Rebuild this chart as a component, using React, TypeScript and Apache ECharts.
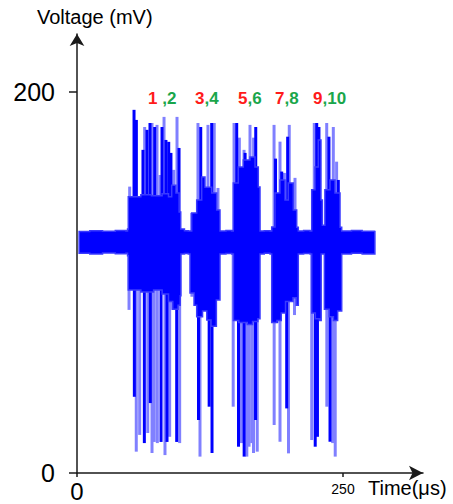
import React, { useEffect, useRef } from 'react';
import * as echarts from 'echarts';

// Axis ticks / ranges (µs, mV)
const xTicks = [0, 250];
const yTicks = [0, 200];
const xMax = 325.2;
const yMax = 230.4;
const baselineLevel = 121;

// Dense core of the trace: upper and lower envelope [time µs, mV]
const coreUpper: [number, number][] = [
  [2, 126.8], [12, 127.2], [24, 126.9], [36, 127.3], [46, 127],
  [47.5, 128], [48.2, 145], [60, 146], [70, 145.5], [80, 146.5], [86, 145], [89, 151], [93, 147], [96, 137], [97.5, 128],
  [101, 127.2], [104.6, 127], [107.8, 136.5], [112.5, 143.3], [117.2, 155.4], [120.3, 150], [126.6, 147], [131.3, 138], [134.4, 127],
  [140, 127.3], [145.4, 127], [146.9, 152.2], [151.6, 160.6], [156.3, 164.3], [162.6, 165.9], [167.3, 160.6], [170.4, 150.1], [172, 127],
  [176, 127.2], [181.4, 127], [183, 129.1], [186.1, 147], [190.8, 153.8], [195.5, 143.3], [198.6, 152.2], [203.3, 138], [206.5, 129], [208, 127],
  [213, 127.3], [219, 127], [220.6, 148.6], [223.7, 160.6], [226.8, 174.8], [229.3, 143.3], [230.6, 130], [233, 148.6], [237.8, 153.8], [242.5, 147], [247.2, 129], [248.8, 127],
  [258, 127.3], [268, 126.9], [280, 127.1],
];
const coreLower: [number, number][] = [
  [2, 115.3], [12, 115], [24, 115.4], [36, 115.1], [46, 115.3],
  [47.5, 114], [48.2, 96], [60, 95], [72, 96], [80, 94], [86, 90], [90, 86], [95, 88], [97, 93], [97.7, 115],
  [101, 115.2], [104.6, 115], [106.2, 94.5], [110, 88], [112.5, 82], [118, 85], [122, 80.3], [126, 77], [131, 90.8], [134.4, 115],
  [140, 115.2], [145.4, 115], [147, 80], [152, 79], [160, 78], [165, 79.5], [170, 81], [172, 115],
  [176, 115.3], [181.4, 115], [183, 79], [188, 80], [192, 84], [196, 90], [203, 92], [206, 88], [208, 115],
  [213, 115.2], [219, 115], [220.6, 84], [224, 81], [228, 80], [229.5, 115], [231, 115], [232.5, 86], [237, 82], [241, 80], [245, 85], [248.8, 115],
  [258, 115.3], [268, 115], [280, 115.2],
];

// Individual excursions [time µs, peak mV]
const spikesUpStrong: [number, number][] = [
  [53.6, 190.6], [55.8, 185.3], [62, 169.6], [65.8, 180.1], [68.6, 183.7], [73, 181.6], [79.9, 181.6], [83.6, 174.8], [86.2, 173.8], [88.3, 168], [95.9, 170.6],
  [116.3, 181.6], [118.5, 155], [126.6, 183.7],
  [150.1, 183.7], [158, 168], [168, 181.6],
  [186.6, 165], [192.4, 158.2], [198, 176.5],
  [225.3, 183.7], [227.4, 181.6], [236.8, 176.5], [245.6, 153.8],
];
const spikesUpFaint: [number, number][] = [
  [49.5, 150.3], [63.6, 181.6], [70.5, 183.7], [75.2, 182.7], [78, 156.4], [81.8, 186.9], [90.9, 159.1], [94, 186.9],
  [107.8, 136.5], [113.7, 183.7], [123.1, 182.7], [129, 183.7], [132.5, 149.6],
  [147.6, 183.7], [152.6, 176], [157, 169.6], [162.6, 182.7], [166, 176], [171, 138],
  [185.2, 182.7], [190.8, 173.9], [194.9, 157.5], [199.5, 182.7], [204.9, 154.9],
  [223, 183.7], [234.7, 183.7], [240.9, 181.6], [244, 163.4],
];
const spikesDownStrong: [number, number][] = [
  [53.9, 40], [63.3, 15.7], [68.9, 36.7], [79, 16.3], [84.6, 16.3], [93.7, 16.3],
  [114.2, 27.8], [124.2, 34.8], [126.9, 10.5],
  [151.8, 13.8], [157.1, 8.6], [167.8, 27.8],
  [187.7, 78.7], [197.1, 33.9],
  [223.9, 13.8], [226, 19], [237.8, 16.4],
];
const spikesDownFaint: [number, number][] = [
  [48.9, 85.6], [55.7, 11.2], [58.9, 20], [66.5, 21], [70.5, 10.5], [72.6, 16.3], [75.5, 15.7], [82.7, 9.4], [87.1, 19], [89.6, 85.6], [96.5, 15.7],
  [108, 92.5], [115.6, 8.6],
  [146.8, 34.8], [154.6, 15.7], [159.6, 8.6], [161.7, 13.8], [164.2, 15.7], [165.9, 10.5], [169.4, 11.2],
  [185.3, 25.2], [190.8, 16.4], [198.8, 10.3], [204.4, 82.9],
  [220.6, 17.3], [234.8, 34.8], [240.3, 15.7], [242.7, 8.6],
];

// Pulse annotations (odd number in red, even in green)
const pulseOdd = ['1', '3', '5', '7', '9'];
const pulseEven = [' ,2', ',4', ',6', ',8', ',10'];

// layout (pixels)
const pulseLabelX = [148, 195, 238, 275, 313];

const FONT = '"Liberation Sans", Arial, sans-serif';

function spikeSeries(data: [number, number][], color: string, width: number, z: number) {
  return {
    type: 'custom',
    coordinateSystem: 'cartesian2d',
    data,
    encode: { x: 0, y: 1 },
    silent: true,
    z,
    renderItem: (_params: any, api: any) => {
      const t = api.value(0);
      const v = api.value(1);
      const p1 = api.coord([t, v]);
      const p2 = api.coord([t, baselineLevel]);
      return {
        type: 'line',
        shape: { x1: p1[0], y1: p1[1], x2: p2[0], y2: p2[1] },
        style: { stroke: color, lineWidth: width },
      };
    },
  };
}

// step-shaped outline through the envelope points
function stepPoints(api: any, pts: [number, number][]) {
  const out: number[][] = [];
  for (let i = 0; i < pts.length; i++) {
    out.push(api.coord(pts[i]));
    if (i < pts.length - 1) out.push(api.coord([pts[i + 1][0], pts[i][1]]));
  }
  return out;
}

export default function App() {
  const ref = useRef<HTMLDivElement>(null);
  useEffect(() => {
    if (!ref.current) return;
    const chart = echarts.init(ref.current, undefined, { renderer: 'svg' });
    const axisColor = '#1a1a1a';
    chart.setOption({
      animation: false,
      backgroundColor: '#ffffff',
      grid: { left: 77, right: 30, top: 34, bottom: 31, outerBoundsMode: 'none' },
      xAxis: {
        type: 'value',
        min: 0,
        max: xMax,
        splitLine: { show: false },
        axisLine: {
          lineStyle: { color: axisColor, width: 1.5 },
          symbol: ['none', 'arrow'],
          symbolSize: [11, 14],
        },
        axisTick: { show: true, length: 4, customValues: xTicks, lineStyle: { color: axisColor, width: 1.5 } },
        axisLabel: {
          customValues: xTicks,
          margin: 6,
          formatter: (v: number) => (v === 0 ? '{big|0}' : '{small|' + v + '}'),
          rich: {
            big: { fontSize: 24, lineHeight: 24, color: '#000', fontFamily: FONT },
            small: { fontSize: 14, lineHeight: 14, color: '#000', fontFamily: FONT, padding: [6, 0, 0, 0] },
          },
        },
      },
      yAxis: {
        type: 'value',
        min: 0,
        max: yMax,
        splitLine: { show: false },
        axisLine: {
          show: true,
          lineStyle: { color: axisColor, width: 1.5 },
          symbol: ['none', 'arrow'],
          symbolSize: [11, 12],
        },
        axisTick: { show: true, length: 8, customValues: yTicks, lineStyle: { color: axisColor, width: 1.5 } },
        axisLabel: {
          customValues: yTicks,
          margin: 22,
          fontSize: 25,
          color: '#000',
          fontFamily: FONT,
        },
      },
      series: [
        spikeSeries(spikesUpFaint, '#8080ff', 3, 2),
        spikeSeries(spikesDownFaint, '#8080ff', 3, 2),
        spikeSeries(spikesUpStrong, '#0000ff', 3, 3),
        spikeSeries(spikesDownStrong, '#0000ff', 3, 3),
        {
          type: 'custom',
          coordinateSystem: 'cartesian2d',
          data: [[0, baselineLevel]],
          encode: { x: 0, y: 1 },
          silent: true,
          z: 4,
          renderItem: (_params: any, api: any) => {
            const upper = stepPoints(api, coreUpper);
            const lower = stepPoints(api, coreLower).reverse();
            return {
              type: 'polygon',
              shape: { points: upper.concat(lower) },
              style: { fill: '#0000ff', stroke: '#3a3aff', lineWidth: 1.5 },
            };
          },
        },
      ],
      graphic: [
        {
          type: 'text',
          left: 37,
          top: 7,
          style: { text: 'Voltage (mV)', fontSize: 20, fontFamily: FONT, fill: '#000' },
        },
        {
          type: 'text',
          left: 368,
          top: 478,
          style: { text: 'Time(μs)', fontSize: 20, fontFamily: FONT, fill: '#000' },
        },
        ...pulseOdd.map((odd, i) => ({
          type: 'text',
          left: pulseLabelX[i],
          top: 90,
          style: {
            text: '{r|' + odd + '}{g|' + pulseEven[i] + '}',
            rich: {
              r: { fill: '#ff1a1a', fontSize: 17, fontWeight: 'bold', fontFamily: FONT },
              g: { fill: '#1aa64b', fontSize: 17, fontWeight: 'bold', fontFamily: FONT },
            },
          },
        })),
      ],
    });
    return () => chart.dispose();
  }, []);
  return <div ref={ref} style={{ position: 'absolute', left: 0, top: 0, width: 453, height: 504 }} />;
}
